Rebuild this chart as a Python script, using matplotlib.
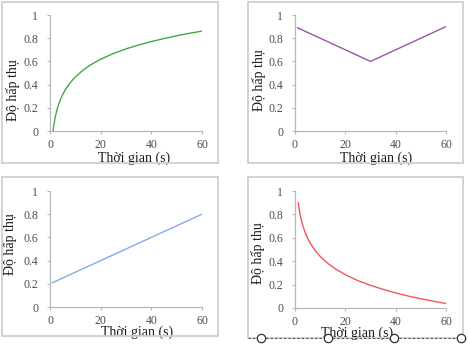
import matplotlib.pyplot as plt
from matplotlib.patches import Rectangle
from matplotlib.lines import Line2D

plt.rcParams['font.family'] = ['Liberation Serif', 'DejaVu Serif']

# data
green_t = [1.2, 1.5, 2, 2.5, 3, 4, 5, 6, 8, 10, 13, 16, 20, 25, 30, 35, 40, 45, 50, 55, 60]
green_a = [0.0, 0.049, 0.112, 0.161, 0.202, 0.265, 0.314, 0.354, 0.417, 0.466, 0.524, 0.570,
           0.619, 0.668, 0.708, 0.742, 0.771, 0.797, 0.821, 0.842, 0.861]

purple_t = [1, 30, 60]
purple_a = [0.89, 0.60, 0.90]

blue_t = [1, 60]
blue_a = [0.21, 0.80]

red_t = [1.3, 1.6, 2, 2.5, 3, 4, 5, 6, 8, 10, 13, 16, 20, 25, 30, 35, 40, 45, 50, 55, 60]
red_a = [0.90, 0.853, 0.803, 0.753, 0.712, 0.647, 0.597, 0.556, 0.491, 0.441, 0.382, 0.335,
         0.285, 0.234, 0.194, 0.159, 0.129, 0.102, 0.079, 0.058, 0.038]

xticks = [0, 20, 40, 60]
yticks = [0, 0.2, 0.4, 0.6, 0.8, 1]
ytick_labels = ['0', '0.2', '0.4', '0.6', '0.8', '1']
xlabel = 'Thời gian (s)'
ylabel = 'Độ hấp thụ'

W, H = 468, 347
fig = plt.figure(figsize=(W / 100, H / 100), dpi=100)


def px_box(x0, x1, top, bottom):
    return [x0 / W, 1 - bottom / H, (x1 - x0) / W, (bottom - top) / H]


def frame(x0, y0, x1, y1):
    fig.patches.append(Rectangle((x0 / W, 1 - y1 / H), (x1 - x0) / W, (y1 - y0) / H,
                                 transform=fig.transFigure, fill=False,
                                 edgecolor='#cfcfcf', linewidth=1.3))


def panel(box, t, a, colour, xl_pos, yl_pos):
    ax = fig.add_axes(px_box(*box))
    ax.plot(t, a, color=colour, linewidth=1.0)
    ax.set_xlim(0, 60)
    ax.set_ylim(0, 1)
    ax.set_xticks(xticks)
    ax.set_yticks(yticks)
    ax.set_yticklabels(ytick_labels)
    for s in ['top', 'right']:
        ax.spines[s].set_visible(False)
    for s in ['left', 'bottom']:
        ax.spines[s].set_color('#b8b8b8')
        ax.spines[s].set_linewidth(0.9)
    ax.tick_params(length=2.5, width=0.8, color='#b8b8b8', labelsize=8.5,
                   labelcolor='#4d4d4d')
    ax.tick_params(axis='x', pad=3)
    ax.tick_params(axis='y', pad=6)
    ax.set_xlabel(xlabel, fontsize=10, color='#1a1a1a')
    ax.set_ylabel(ylabel, fontsize=10, color='#1a1a1a')
    ax.xaxis.label.set_va('center')
    ax.yaxis.label.set_va('center')
    ax.xaxis.set_label_coords(*xl_pos)
    ax.yaxis.set_label_coords(*yl_pos)
    return ax


frame(2, 2, 218, 163)
frame(248, 2, 463, 163)
frame(2, 177, 218, 336)
frame(248, 177, 463, 338)

panel((50, 202, 15, 131), green_t, green_a, '#45a845', (0.55, -0.235), (-0.243, 0.35))
panel((295, 446, 15, 131), purple_t, purple_a, '#9b55a8', (0.54, -0.235), (-0.24, 0.44))
panel((50, 202, 191, 307), blue_t, blue_a, '#86a8ee', (0.57, -0.215), (-0.26, 0.54))
panel((295, 446, 191, 308), red_t, red_a, '#f05858', (0.41, -0.215), (-0.245, 0.47))

# selection handles along the bottom edge of the last panel
fig.lines.append(Line2D([248 / W, 463 / W], [1 - 338 / H] * 2, transform=fig.transFigure,
                        color='#555555', linewidth=0.8, linestyle=(0, (2, 2))))
for hx in [261, 328, 394, 461]:
    fig.lines.append(Line2D([hx / W], [1 - 338 / H], transform=fig.transFigure,
                            marker='o', markersize=6, markerfacecolor='white',
                            markeredgecolor='#333333', markeredgewidth=0.9))

fig.savefig('out.png', dpi=100)
